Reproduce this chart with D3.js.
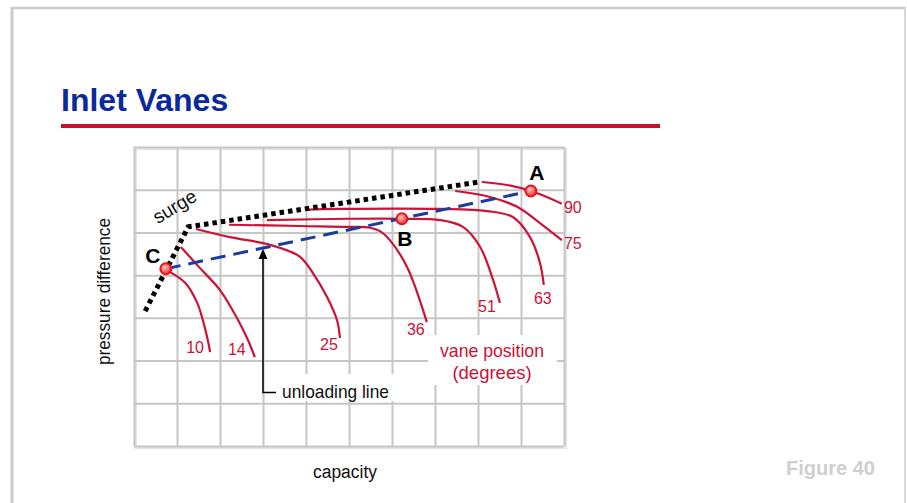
<!DOCTYPE html>
<html>
<head>
<meta charset="utf-8">
<script src="https://cdn.jsdelivr.net/npm/d3@7"></script>
<style>
body { margin: 0; background: #fff; }
text { font-family: "Liberation Sans", Arial, sans-serif; }
</style>
</head>
<body>
<div id="chart"></div>
<script>
// vane position curves, in grid units (x: capacity 0-10, y: pressure 0-7)
var vanes = [10, 14, 25, 36, 51, 63, 75, 90];
var curve10 = [[0.79,4.10],[1.19,3.82],[1.47,3.35],[1.60,2.95],[1.70,2.55],[1.77,2.20]];
var curve14 = [[1.09,4.66],[1.53,4.17],[2.00,3.65],[2.42,2.95],[2.65,2.48],[2.81,2.08]];
var curve25 = [[1.44,5.08],[2.23,4.89],[3.00,4.75],[3.33,4.66],[3.86,4.43],[4.16,4.05],[4.49,3.49],[4.72,2.95],[4.79,2.53]];
var curve36 = [[2.21,5.18],[3.86,5.15],[5.02,5.13],[5.49,5.11],[5.72,5.03],[5.95,4.82],[6.35,4.19],[6.81,2.90]];
var curve51 = [[3.09,5.29],[5.02,5.32],[6.23,5.32],[7.12,5.29],[7.65,5.13],[8.05,4.66],[8.35,3.89],[8.51,3.35]];
var curve63 = [[3.98,5.53],[4.79,5.55],[7.12,5.55],[8.21,5.50],[8.81,5.36],[9.21,4.89],[9.44,4.29],[9.53,3.77]];
var curve75 = [[7.47,5.97],[8.28,5.83],[8.91,5.60],[9.44,5.22],[9.95,4.82]];
var curve90 = [[8.09,6.18],[8.67,6.11],[9.23,5.97],[9.60,5.83],[9.95,5.67]];
var curves = [curve10, curve14, curve25, curve36, curve51, curve63, curve75, curve90];

var surge = [[0.26,3.16],[1.26,5.13],[8.02,6.18]];

var pointNames = ["A", "B", "C"];
var pointX = [9.23, 6.23, 0.74];
var pointY = [5.97, 5.32, 4.15];

var unloadingX = 3.0;
var gridCols = 10, gridRows = 7;

var W = 907, H = 503;
var svg = d3.select("#chart").append("svg")
  .attr("width", W).attr("height", H);

var defs = svg.append("defs");
var grad = defs.append("radialGradient").attr("id", "dot")
  .attr("cx", "40%").attr("cy", "35%").attr("r", "65%");
grad.append("stop").attr("offset", "0%").attr("stop-color", "#ffc4c4");
grad.append("stop").attr("offset", "100%").attr("stop-color", "#f03030");

// slide frame
svg.append("line").attr("x1", 12).attr("y1", 7).attr("x2", 12).attr("y2", H)
  .attr("stroke", "#cccccc").attr("stroke-width", 3);
svg.append("line").attr("x1", 11).attr("y1", 8).attr("x2", 905).attr("y2", 8)
  .attr("stroke", "#cccccc").attr("stroke-width", 2.5);
svg.append("line").attr("x1", 905).attr("y1", 7).attr("x2", 905).attr("y2", H)
  .attr("stroke", "#cccccc").attr("stroke-width", 1.5);

// title
svg.append("text").attr("x", 61).attr("y", 111)
  .attr("font-size", "32px").attr("font-weight", "bold")
  .attr("fill", "#0a2a9c").text("Inlet Vanes");
svg.append("rect").attr("x", 61).attr("y", 124).attr("width", 599).attr("height", 4)
  .attr("fill", "#c8102e");

var x = d3.scaleLinear().domain([0, gridCols]).range([134, 564]);
var y = d3.scaleLinear().domain([0, gridRows]).range([446, 147]);

// grid (shadow, then lines)
svg.append("rect").attr("x", x(0) + 2).attr("y", y(gridRows) + 2)
  .attr("width", x(gridCols) - x(0)).attr("height", y(0) - y(gridRows))
  .attr("fill", "none").attr("stroke", "#e4e4e4").attr("stroke-width", 2);

var gx = svg.append("g").attr("transform", "translate(0," + y(0) + ")")
  .call(d3.axisBottom(x).ticks(gridCols).tickSize(-(y(0) - y(gridRows))).tickFormat(""));
var gy = svg.append("g").attr("transform", "translate(" + x(0) + ",0)")
  .call(d3.axisLeft(y).ticks(gridRows).tickSize(-(x(gridCols) - x(0))).tickFormat(""));
[gx, gy].forEach(function(g){
  g.select(".domain").remove();
  g.selectAll("line").attr("stroke", "#c6c6c6").attr("stroke-width", 2);
});

// white label boxes over the grid
svg.append("rect").attr("x", 277).attr("y", 374).attr("width", 118).attr("height", 27).attr("fill", "#fff");
svg.append("rect").attr("x", 428).attr("y", 335).attr("width", 129).attr("height", 50).attr("fill", "#fff");

var line = d3.line().x(function(d){ return x(d[0]); }).y(function(d){ return y(d[1]); });
var smooth = d3.line().curve(d3.curveCatmullRom.alpha(0.5))
  .x(function(d){ return x(d[0]); }).y(function(d){ return y(d[1]); });

// vane curves
svg.append("g").selectAll("path").data(curves).enter()
  .append("path")
  .attr("d", smooth)
  .attr("fill", "none").attr("stroke", "#cc1236").attr("stroke-width", 2.2);

var labelOffset = {10:[-15,1], 14:[-18,-2], 25:[-11,12], 36:[-11,13], 51:[-13,9], 63:[-1,19], 75:[11,9], 90:[11,9]};
svg.append("g").selectAll("text").data(curves).enter()
  .append("text")
  .attr("x", function(d, i){ return x(d[d.length-1][0]) + labelOffset[vanes[i]][0]; })
  .attr("y", function(d, i){ return y(d[d.length-1][1]) + labelOffset[vanes[i]][1]; })
  .attr("text-anchor", "middle").attr("font-size", "16px").attr("fill", "#cc1236")
  .text(function(d, i){ return vanes[i]; });

// surge line
svg.append("path").datum(surge).attr("d", line)
  .attr("fill", "none").attr("stroke", "#000").attr("stroke-width", 5)
  .attr("stroke-dasharray", "4.5,4");

// unloading line C -> A
svg.append("path").datum([[pointX[2], pointY[2]], [pointX[0], pointY[0]]]).attr("d", line)
  .attr("fill", "none").attr("stroke", "#1b3c9e").attr("stroke-width", 3)
  .attr("stroke-dasharray", "15,8");

// points
svg.append("g").selectAll("circle").data(pointNames).enter()
  .append("circle")
  .attr("cx", function(d, i){ return x(pointX[i]); })
  .attr("cy", function(d, i){ return y(pointY[i]); })
  .attr("r", 5.5)
  .attr("fill", "url(#dot)").attr("stroke", "#e8141c").attr("stroke-width", 2);

var ptLabelOffset = {A:[6,-11], B:[3,27], C:[-13,-6]};
svg.append("g").selectAll("text").data(pointNames).enter()
  .append("text")
  .attr("x", function(d, i){ return x(pointX[i]) + ptLabelOffset[d][0]; })
  .attr("y", function(d, i){ return y(pointY[i]) + ptLabelOffset[d][1]; })
  .attr("text-anchor", "middle").attr("font-size", "21px").attr("font-weight", "bold")
  .attr("fill", "#000").text(function(d){ return d; });

// unloading line arrow
var ax = x(unloadingX);
var ay = y(pointY[2]) + (y(pointY[0]) - y(pointY[2])) * (ax - x(pointX[2])) / (x(pointX[0]) - x(pointX[2]));
svg.append("path")
  .attr("d", "M" + ax + "," + (ay + 8) + "V392.5H276")
  .attr("fill", "none").attr("stroke", "#000").attr("stroke-width", 1.5);
svg.append("path")
  .attr("d", "M" + ax + "," + (ay + 1) + "L" + (ax - 4.5) + "," + (ay + 11) + "L" + (ax + 4.5) + "," + (ay + 11) + "Z")
  .attr("fill", "#000");
svg.append("text").attr("x", 282).attr("y", 398)
  .attr("font-size", "19px").attr("textLength", 107).attr("lengthAdjust", "spacingAndGlyphs")
  .attr("fill", "#111").text("unloading line");

// vane position legend text
svg.append("text").attr("x", 492).attr("y", 357).attr("text-anchor", "middle")
  .attr("font-size", "18.5px").attr("textLength", 104).attr("lengthAdjust", "spacingAndGlyphs")
  .attr("fill", "#cc1236").text("vane position");
svg.append("text").attr("x", 492).attr("y", 379).attr("text-anchor", "middle")
  .attr("font-size", "18.5px").attr("fill", "#cc1236").text("(degrees)");

// surge label
svg.append("text").attr("transform", "translate(178,212) rotate(-31)")
  .attr("text-anchor", "middle").attr("font-size", "19px").attr("fill", "#111").text("surge");

// axis titles
svg.append("text").attr("x", 345).attr("y", 478).attr("text-anchor", "middle")
  .attr("font-size", "18px").attr("textLength", 64).attr("lengthAdjust", "spacingAndGlyphs")
  .attr("fill", "#111").text("capacity");
svg.append("text").attr("transform", "translate(110,291.5) rotate(-90)")
  .attr("text-anchor", "middle").attr("font-size", "17.5px").attr("textLength", 147).attr("lengthAdjust", "spacingAndGlyphs")
  .attr("fill", "#111").text("pressure difference");

// figure number
svg.append("text").attr("x", 875).attr("y", 475).attr("text-anchor", "end")
  .attr("font-size", "20px").attr("font-weight", "bold").attr("fill", "#cfcfcf").text("Figure 40");
</script>
</body>
</html>
